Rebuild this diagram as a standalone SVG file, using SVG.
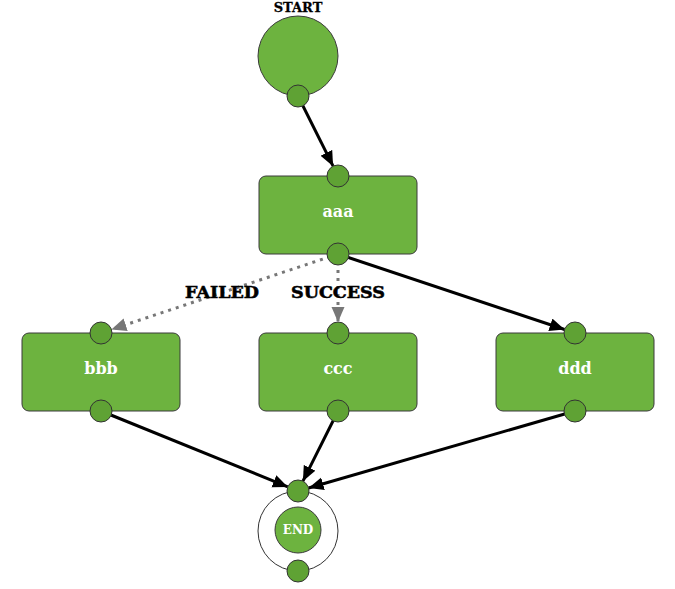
<svg xmlns="http://www.w3.org/2000/svg" width="675" height="589" viewBox="0 0 675 589">
<style>
.box{fill:#6db33f;stroke:#3a3a3a;stroke-width:1}
.port{fill:#5fa234;stroke:#333;stroke-width:1}
.big{fill:#6db33f;stroke:#3a3a3a;stroke-width:1}
.lbl{font-family:'DejaVu Serif',serif;font-weight:bold;fill:#fff;text-anchor:middle}
.elbl{font-family:'DejaVu Serif',serif;font-weight:bold;fill:#000;text-anchor:middle;font-size:17.5px;stroke:#000;stroke-width:0.6}
.solid{stroke:#000;stroke-width:3;fill:none;marker-end:url(#ah)}
.dot{stroke:#777;stroke-width:3;fill:none;stroke-dasharray:3 5;marker-end:url(#ahg)}
</style>
<defs>
<marker id="ah" markerUnits="userSpaceOnUse" markerWidth="16" markerHeight="14" refX="15" refY="6.5" orient="auto"><path d="M0,0 L15,6.5 L0,13 z" fill="#000"/></marker>
<marker id="ahg" markerUnits="userSpaceOnUse" markerWidth="16" markerHeight="14" refX="15" refY="6.5" orient="auto"><path d="M0,0 L15,6.5 L0,13 z" fill="#777"/></marker>
</defs>
<g id="connectors">
<path class="solid" d="M298,96 L333.1,166.2"/>
<path class="dot" d="M338,254 L111.4,329.5"/>
<path class="dot" d="M338,254 L338,322"/>
<path class="solid" d="M338,254 L564.6,329.5"/>
<path class="solid" d="M101,411 L287.8,486.9"/>
<path class="solid" d="M338,411 L302.9,481.2"/>
<path class="solid" d="M575,411 L308.6,488"/>
<text class="elbl" x="222" y="298">FAILED</text>
<text class="elbl" x="338" y="298">SUCCESS</text>
</g>
<g id="start">
<text x="298" y="12" font-family="DejaVu Serif, serif" font-weight="bold" font-size="13" text-anchor="middle" fill="#000" stroke="#000" stroke-width="0.3">START</text>
<circle class="big" cx="298" cy="56" r="40"/>
<circle class="port" cx="298" cy="96" r="11"/>
</g>
<g id="aaa">
<rect class="box" x="259" y="176" width="158" height="78" rx="7"/>
<text class="lbl" x="338" y="217" font-size="16">aaa</text>
<circle class="port" cx="338" cy="176" r="11"/>
<circle class="port" cx="338" cy="254" r="11"/>
</g>
<g id="bbb">
<rect class="box" x="22" y="333" width="158" height="78" rx="7"/>
<text class="lbl" x="101" y="374" font-size="16">bbb</text>
<circle class="port" cx="101" cy="333" r="11"/>
<circle class="port" cx="101" cy="411" r="11"/>
</g>
<g id="ccc">
<rect class="box" x="259" y="333" width="158" height="78" rx="7"/>
<text class="lbl" x="338" y="374" font-size="16">ccc</text>
<circle class="port" cx="338" cy="333" r="11"/>
<circle class="port" cx="338" cy="411" r="11"/>
</g>
<g id="ddd">
<rect class="box" x="496" y="333" width="158" height="78" rx="7"/>
<text class="lbl" x="575" y="374" font-size="16">ddd</text>
<circle class="port" cx="575" cy="333" r="11"/>
<circle class="port" cx="575" cy="411" r="11"/>
</g>
<g id="end">
<circle cx="298" cy="531" r="40" fill="#fff" stroke="#333" stroke-width="1"/>
<circle class="big" cx="298" cy="530" r="23"/>
<text class="lbl" x="298" y="534" font-size="12">END</text>
<circle class="port" cx="298" cy="491" r="11"/>
<circle class="port" cx="298" cy="571" r="11"/>
</g>
</svg>
